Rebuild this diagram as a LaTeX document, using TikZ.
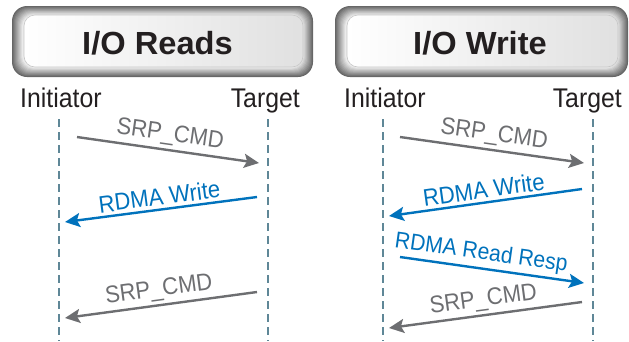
\documentclass[tikz,border=0pt]{standalone}
\usepackage{fontspec}
\setmainfont{Liberation Sans}[FakeStretch=0.92]
\newfontfamily\titlefont{Liberation Sans}[FakeStretch=1.02]
\usetikzlibrary{arrows.meta}
\definecolor{msggray}{HTML}{6D6E71}
\definecolor{msgblue}{HTML}{0072BC}
\definecolor{lifecol}{HTML}{5F8797}
\definecolor{inktext}{HTML}{231F20}
\begin{document}
\begin{tikzpicture}[x=1pt,y=-1pt,
  titlenode/.style={font=\titlefont\bfseries\fontsize{32}{36}\selectfont, text=inktext, anchor=base, inner sep=0pt},
  rolenode/.style={font=\fontsize{27}{30}\selectfont, text=inktext, inner sep=0pt},
  lifeline/.style={draw=lifecol, line width=2.2pt, dash pattern=on 8pt off 5pt},
  msg/.style={line width=2.4pt, -{Stealth[length=15pt,width=14pt,inset=3pt]}},
  msglabel/.style={font=\fontsize{24}{26}\selectfont, sloped, above=2pt, inner sep=1pt}]
  \useasboundingbox (0,0) rectangle (629,341);
  % Title panels
  \foreach \xa/\xb in {12/313, 335/628}{
    \foreach \k in {0,...,10}{
      \pgfmathsetmacro\tone{60-5.2*\k}
      \pgfmathsetmacro\rad{15-0.3*\k}
      \fill[black!\tone, rounded corners=\rad pt] (\xa+\k,6+0.85*\k) rectangle (\xb-\k,77-0.9*\k);
    }
    \shade[left color=white, right color=black!12, rounded corners=11pt] (\xa+12,15) rectangle (\xb-10,67);
    \draw[black!22, line width=0.6pt, rounded corners=11pt] (\xa+12,15) rectangle (\xb-10,67);
  }
  \node[titlenode] (readtitle)  at (157.5,54) {I/O Reads};
  \node[titlenode] (writetitle) at (480,54)   {I/O Write};
  % Roles
  \node[rolenode, anchor=base west] (rinit) at (20,107)  {Initiator};
  \node[rolenode, anchor=base east] (rtarg) at (300,107) {Target};
  \node[rolenode, anchor=base west] (winit) at (344,107) {Initiator};
  \node[rolenode, anchor=base east] (wtarg) at (622,107) {Target};
  % Lifelines
  \coordinate (ri1) at (59,119);  \coordinate (ri2) at (59,341);
  \coordinate (rt1) at (268,119); \coordinate (rt2) at (268,341);
  \coordinate (wi1) at (383,119); \coordinate (wi2) at (383,341);
  \coordinate (wt1) at (593,119); \coordinate (wt2) at (593,341);
  \draw[lifeline] (ri1) -- (ri2);
  \draw[lifeline] (rt1) -- (rt2);
  \draw[lifeline] (wi1) -- (wi2);
  \draw[lifeline] (wt1) -- (wt2);
  % I/O Reads messages
  \coordinate (ra1) at (77,137);  \coordinate (ra2) at (259,163);
  \coordinate (rb1) at (257,197); \coordinate (rb2) at (65,222);
  \coordinate (rc1) at (257,292); \coordinate (rc2) at (65,318);
  \draw[msg, msggray] (ra1) -- node[msglabel] (racmd) {SRP\_CMD} (ra2);
  \draw[msg, msgblue] (rb1) -- node[msglabel] (rbrdma) {RDMA Write} (rb2);
  \draw[msg, msggray] (rc1) -- node[msglabel] (rccmd) {SRP\_CMD} (rc2);
  % I/O Write messages
  \coordinate (wa1) at (400,137); \coordinate (wa2) at (584,163);
  \coordinate (wb1) at (582,189); \coordinate (wb2) at (389,216);
  \coordinate (wc1) at (400,257); \coordinate (wc2) at (584,283);
  \coordinate (wd1) at (582,302); \coordinate (wd2) at (389,328);
  \draw[msg, msggray] (wa1) -- node[msglabel] (wacmd) {SRP\_CMD} (wa2);
  \draw[msg, msgblue] (wb1) -- node[msglabel] (wbrdma) {RDMA Write} (wb2);
  \draw[msg, msgblue] (wc1) -- node[msglabel, pos=0.43, font=\fontsize{23}{25}\selectfont] (wcresp) {RDMA Read Resp} (wc2);
  \draw[msg, msggray] (wd1) -- node[msglabel] (wdcmd) {SRP\_CMD} (wd2);
\end{tikzpicture}
\end{document}
